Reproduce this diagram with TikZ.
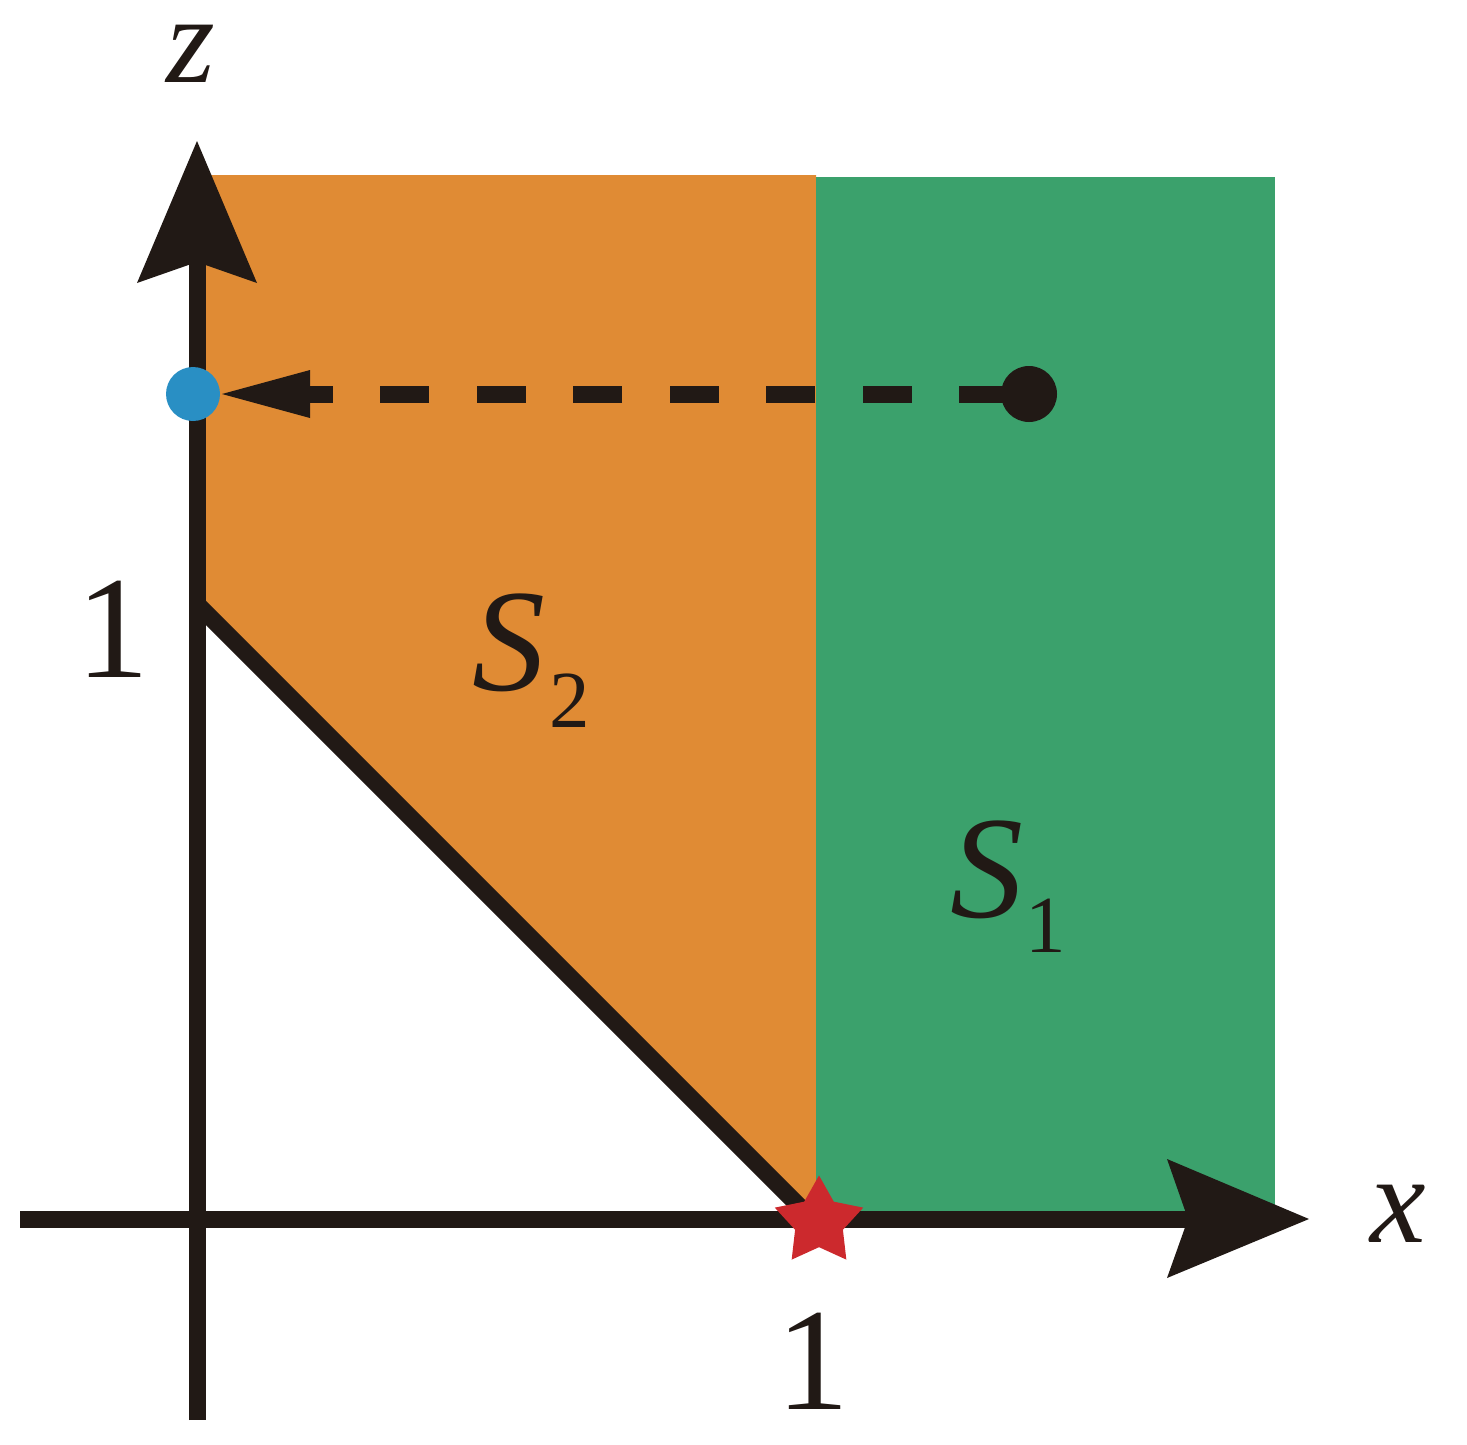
\documentclass[tikz,border=0pt]{standalone}
\usepackage{fontspec}
\setmainfont{Liberation Serif}
\usetikzlibrary{shapes.geometric,calc}
\definecolor{orng}{RGB}{224,139,52}
\definecolor{grn}{RGB}{59,161,108}
\definecolor{blu}{RGB}{41,143,196}
\definecolor{rd}{RGB}{204,41,45}
\definecolor{ink}{RGB}{33,25,21}
\begin{document}
\begin{tikzpicture}[x=1pt,y=-1pt,
  axisline/.style={line width=17pt, draw=ink},
  dotnode/.style={circle, inner sep=0pt},
  lbl/.style={inner sep=0pt, anchor=base, text=ink},
  big/.style={font=\fontsize{146}{146}\selectfont},
  axlbl/.style={font=\fontsize{125}{125}\selectfont\itshape, text height=60pt, text depth=0pt},
]
\useasboundingbox (0,0) rectangle (1467,1445);
% regions
\fill[orng] (197,175) -- (816,175) -- (816,1219) -- (197,600) -- cycle;
\fill[grn] (816,177) rectangle (1275,1219);
% axes
\coordinate (zbot) at (197,1420);
\coordinate (znotch) at (197,262);
\coordinate (ztip) at (197,141);
\coordinate (xleft) at (20,1219);
\coordinate (xnotch) at (1188,1219);
\coordinate (xtip) at (1309,1219);
\draw[axisline] (zbot) -- (znotch);
\fill[ink] (ztip) -- (257,283) -- (znotch) -- (137,283) -- cycle;
\draw[axisline] (xleft) -- (xnotch);
\fill[ink] (xtip) -- (1167,1278) -- (xnotch) -- (1167,1159) -- cycle;
% diagonal boundary
\coordinate (d1) at (198,605);
\coordinate (d2) at (812,1219);
\draw[axisline, line cap=round] (d1) -- (d2);
% dashed projection arrow
\node[dotnode, fill=ink, minimum size=56pt] (src) at (1029,394) {};
\node[dotnode, fill=blu, minimum size=54pt] (dst) at (193,394) {};
\coordinate (hbase) at (310,394);
\coordinate (htip) at (222,394);
\draw[axisline, dash pattern=on 49pt off 47.5pt, dash phase=75.5pt] (src.center) -- (hbase);
\fill[ink] (htip) -- (310,370) -- (310,418) -- cycle;
% star
\node[star, star points=5, star point ratio=1.85, minimum size=93pt, inner sep=0pt, fill=rd] (st) at (819,1222) {};
% labels
\node[lbl, axlbl] (zl) at (191,82) {z};
\node[lbl, axlbl] (xl) at (1398,1242) {x};
\node[lbl, big] (one1) at (113,677) {1};
\node[lbl, big] (one2) at (813,1409) {1};
\node[lbl, big, anchor=base west] (s2) at (472,690) {{\itshape S}\kern4pt\raisebox{-37pt}{\fontsize{81}{81}\selectfont 2}};
\node[lbl, big, anchor=base west] (s1) at (950,917) {{\itshape S}\kern2pt\raisebox{-35pt}{\fontsize{81}{81}\selectfont 1}};
\end{tikzpicture}
\end{document}
